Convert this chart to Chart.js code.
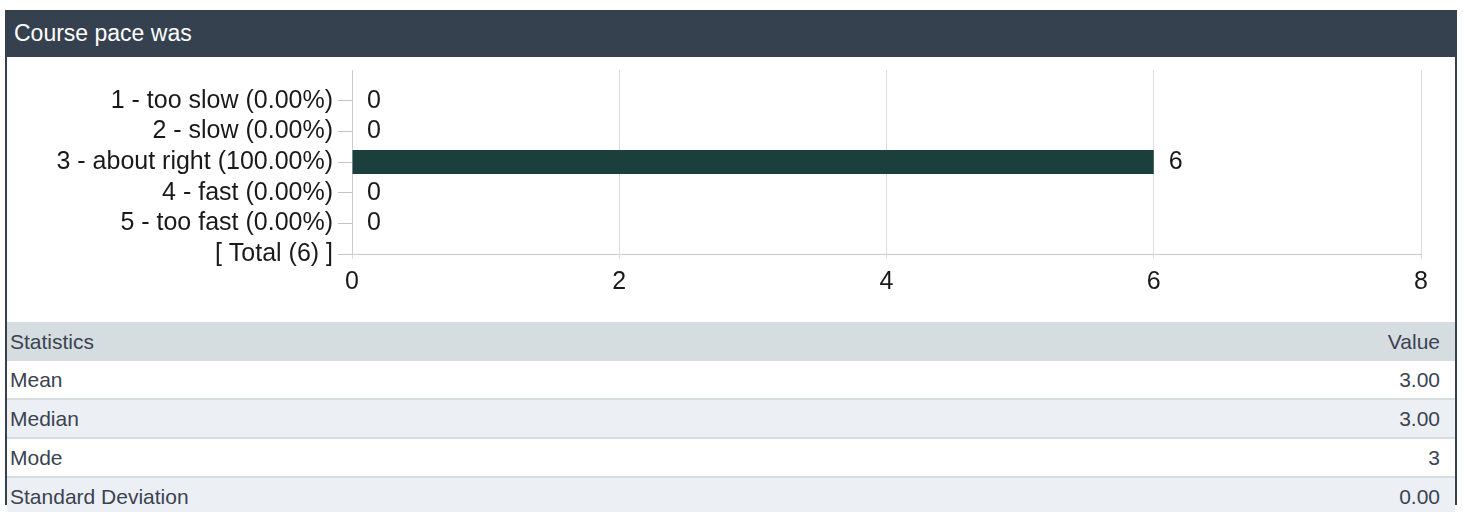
<!DOCTYPE html>
<html>
<head>
<meta charset="utf-8">
<script src="https://cdn.jsdelivr.net/npm/chart.js@4"></script>
<style>
    body {
        margin: 0;
        background: #ffffff;
        font-family: "Liberation Sans", Arial, sans-serif;
    }
    .panel {
        position: absolute;
        left: 5px;
        top: 10px;
        width: 1452px;
    }
    .panel-header {
        position: relative;
        height: 47px;
        line-height: 47px;
        background: #36414f;
        color: #ffffff;
        font-size: 23px;
        padding-left: 9px;
    }
    .panel-body {
        border-left: 2px solid #36414f;
        border-right: 2px solid #36414f;
        height: 455px;
    }
    .chart-box {
        position: relative;
        width: 1448px;
        height: 272px;
        margin-top: -7px;
    }
    table {
        width: 100%;
        border-collapse: collapse;
        font-size: 21px;
        color: #3b4350;
    }
    th, td {
        padding: 0 15px 0 3px;
        text-align: left;
        font-weight: normal;
    }
    th { background: #d6dde1; height: 39px; }
    td { height: 37px; border-bottom: 2px solid #d6dde1; }
    tr:nth-child(even) td { background: #ecf0f4; }
    .num { text-align: right; }
</style>
</head>
<body>
<div class="panel">
    <div class="panel-header">Course pace was</div>
    <div class="panel-body">
        <div class="chart-box"><canvas id="paceChart"></canvas></div>
        <table id="stats">
            <thead><tr><th>Statistics</th><th class="num">Value</th></tr></thead>
            <tbody></tbody>
        </table>
    </div>
</div>

<script>
// Answer options (tick labels) and response counts
const answerLabels = [
    '1 - too slow (0.00%)',
    '2 - slow (0.00%)',
    '3 - about right (100.00%)',
    '4 - fast (0.00%)',
    '5 - too fast (0.00%)'
];
const answerCounts = [0, 0, 6, 0, 0];
const totalLabel = '[ Total (6) ]';
const xTicks = [0, 2, 4, 6, 8];

// Statistics table
const statNames = ['Mean', 'Median', 'Mode', 'Standard Deviation'];
const statValues = ['3.00', '3.00', '3', '0.00'];

const FONT = '"Liberation Sans", Arial, sans-serif';

// Render the stats rows
function renderStats() {
    const tbody = document.querySelector('#stats tbody');
    tbody.innerHTML = statNames.map((name, i) => `
        <tr><td>${name}</td><td class="num">${statValues[i]}</td></tr>
    `).join('');
}

// Draw the count next to each bar end
const valueLabels = {
    id: 'valueLabels',
    afterDatasetsDraw(chart) {
        const ctx = chart.ctx;
        const meta = chart.getDatasetMeta(0);
        const data = chart.data.datasets[0].data;
        ctx.save();
        ctx.font = '25px ' + FONT;
        ctx.fillStyle = '#1a1a1a';
        ctx.textAlign = 'left';
        ctx.textBaseline = 'middle';
        meta.data.forEach((bar, i) => {
            if (data[i] === null) return;
            ctx.fillText(String(data[i]), bar.x + 15, bar.y);
        });
        ctx.restore();
    }
};

function renderPaceChart() {
    const ctx = document.getElementById('paceChart').getContext('2d');
    // empty first slot so the rows sit on the lines like the original
    const labels = [''].concat(answerLabels, [totalLabel]);
    const values = [null].concat(answerCounts, [null]);

    new Chart(ctx, {
        type: 'bar',
        data: {
            labels: labels,
            datasets: [{
                data: values,
                backgroundColor: '#1b3f3c',
                barThickness: 24,
                inflateAmount: 0
            }]
        },
        plugins: [valueLabels],
        options: {
            indexAxis: 'y',
            responsive: true,
            maintainAspectRatio: false,
            animation: false,
            layout: {
                padding: { top: 12, right: 34, left: 0, bottom: 0 }
            },
            plugins: {
                legend: { display: false },
                tooltip: { enabled: false }
            },
            scales: {
                x: {
                    min: xTicks[0],
                    max: xTicks[xTicks.length - 1],
                    afterBuildTicks: scale => {
                        scale.ticks = xTicks.map(v => ({ value: v }));
                    },
                    afterFit: scale => { scale.height = 68; },
                    grid: {
                        color: '#dcdcdc',
                        tickLength: 5
                    },
                    border: { color: '#cccccc' },
                    ticks: {
                        color: '#1a1a1a',
                        padding: 8,
                        font: { size: 25, family: FONT }
                    }
                },
                y: {
                    offset: false,
                    afterFit: scale => { scale.width = 345; },
                    grid: {
                        offset: false,
                        drawOnChartArea: false,
                        tickLength: 14,
                        tickColor: c => c.index === 0 ? 'rgba(0,0,0,0)' : '#c4c4c4'
                    },
                    border: { color: '#cccccc' },
                    ticks: {
                        color: '#1a1a1a',
                        padding: 5,
                        autoSkip: false,
                        font: { size: 25, family: FONT }
                    }
                }
            }
        }
    });
}

renderStats();
renderPaceChart();
</script>
</body>
</html>
